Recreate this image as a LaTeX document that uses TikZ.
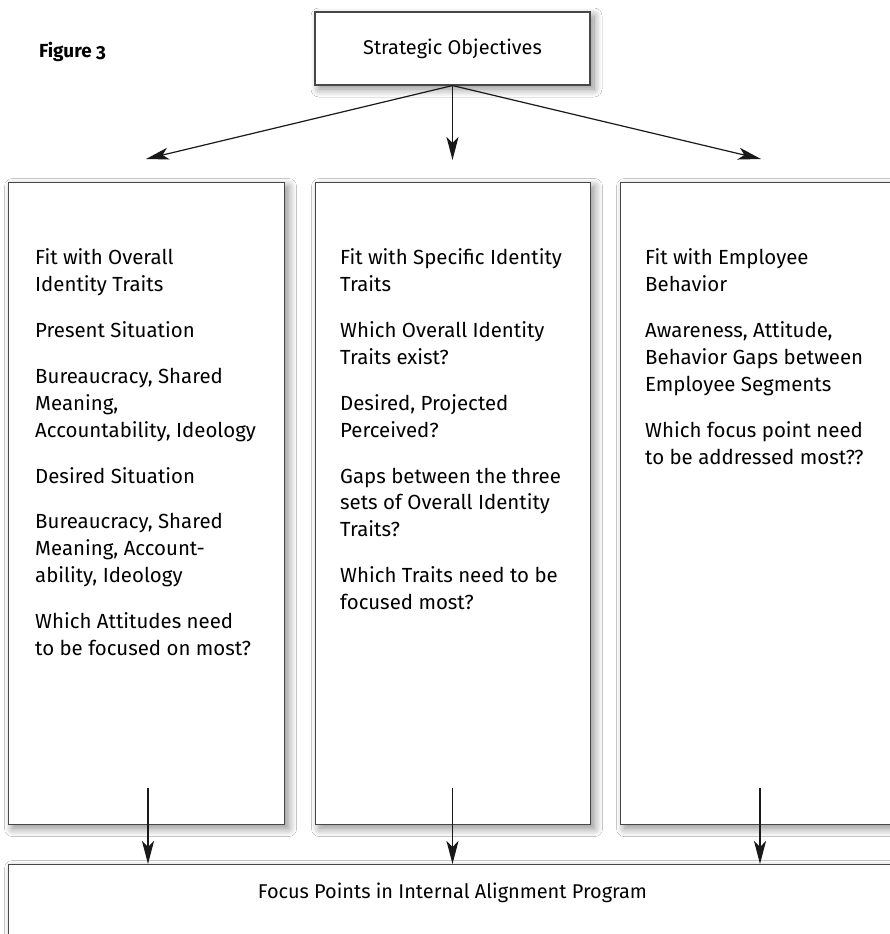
\documentclass[tikz,border=0pt]{standalone}
\usepackage{fontspec}
\setmainfont{Fira Sans}[Numbers=OldStyle]
\usetikzlibrary{arrows.meta,shadows.blur}
\begin{document}
\begin{tikzpicture}[x=1bp,y=-1bp,
  panel/.style={draw=black!72, line width=1.1bp, fill=white,
    blur shadow={shadow xshift=4bp, shadow yshift=-4bp,
      shadow blur radius=8bp, shadow blur steps=14, shadow opacity=45}},
  flow/.style={draw=black!90, line width=1.2bp,
    -{Stealth[length=23bp,width=12bp,inset=6bp]}},
  body/.style={anchor=north west, align=left, inner sep=0pt,
    font=\fontsize{20.5}{27}\selectfont},
]
\useasboundingbox (0,0) rectangle (890,934);
\fill[white] (0,0) rectangle (890,934);

% caption
\node[anchor=base west, inner sep=0pt, font=\fontsize{19}{22}\selectfont\bfseries]
  (caption) at (39,57) {Figure 3};

% top box
\node[panel, minimum width=275bp, minimum height=73bp, inner sep=0pt,
  font=\fontsize{20}{24}\selectfont] (goal) at (452.5,48.5) {Strategic Objectives};

% three columns
\node[panel, anchor=north west, minimum width=276bp, minimum height=642bp,
  inner sep=0pt] (colA) at (8,182) {};
\node[panel, anchor=north west, minimum width=275bp, minimum height=642bp,
  inner sep=0pt] (colB) at (315,182) {};
\node[panel, anchor=north west, minimum width=276bp, minimum height=642bp,
  inner sep=0pt] (colC) at (620,182) {};

% bottom box
\node[panel, anchor=north west, minimum width=900bp, minimum height=100bp,
  inner sep=0pt] (focus) at (8,864) {};
\node[inner sep=0pt, font=\fontsize{20}{24}\selectfont] (focustext) at (452.5,893)
  {Focus Points in Internal Alignment Program};

% column texts
\node[body] (textA) at (35,248.5) {%
  Fit with Overall\\
  Identity Traits\\[19bp]
  Present Situation\\[19bp]
  Bureaucracy, Shared\\
  Meaning,\\
  Accountability, Ideology\\[19bp]
  Desired Situation\\[19bp]
  Bureaucracy, Shared\\
  Meaning, Account-\\
  ability, Ideology\\[19bp]
  Which Attitudes need\\
  to be focused on most?};

\node[body] (textB) at (340,248.5) {%
  Fit with Specific Identity\\
  Traits\\[19bp]
  Which Overall Identity\\
  Traits exist?\\[19bp]
  Desired, Projected\\
  Perceived?\\[19bp]
  Gaps between the three\\
  sets of Overall Identity\\
  Traits?\\[19bp]
  Which Traits need to be\\
  focused most?};

\node[body] (textC) at (645,248.5) {%
  Fit with Employee\\
  Behavior\\[19bp]
  Awareness, Attitude,\\
  Behavior Gaps between\\
  Employee Segments\\[19bp]
  Which focus point need\\
  to be addressed most??};

% arrow ends
\coordinate (tipA) at (146,159);
\coordinate (tipB) at (452.5,160);
\coordinate (tipC) at (761,159);
\coordinate (srcA) at (148,788);
\coordinate (srcB) at (452.5,788);
\coordinate (srcC) at (760,788);

\draw[flow] (goal.south) -- (tipA);
\draw[flow] (goal.south) -- (tipB);
\draw[flow] (goal.south) -- (tipC);

\draw[flow] (srcA) -- (srcA |- focus.north);
\draw[flow] (srcB) -- (srcB |- focus.north);
\draw[flow] (srcC) -- (srcC |- focus.north);
\end{tikzpicture}
\end{document}
